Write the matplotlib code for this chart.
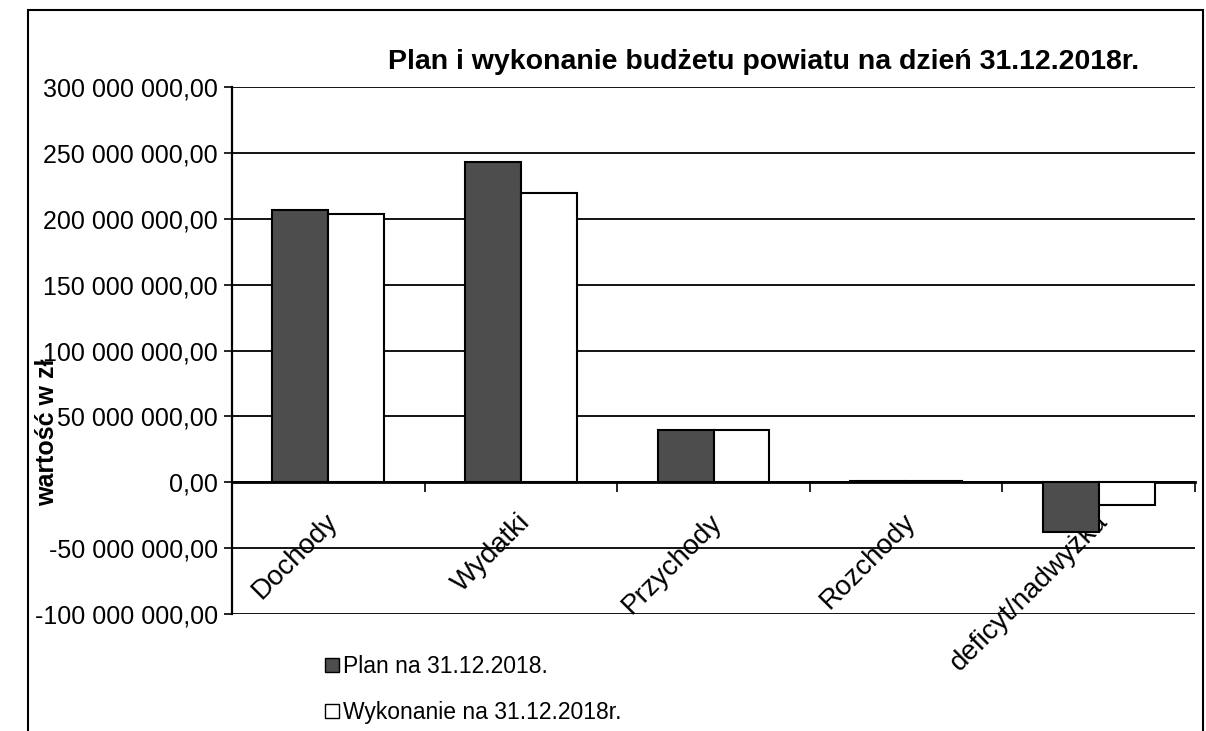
import matplotlib
matplotlib.use('Agg')
import matplotlib.pyplot as plt
import numpy as np
from matplotlib.ticker import FuncFormatter
from matplotlib.patches import Rectangle, Patch

plt.rcParams['font.family'] = ['Liberation Sans', 'DejaVu Sans']

# data (values in zl)
categories = ['Dochody', 'Wydatki', 'Przychody', 'Rozchody', 'deficyt/nadwyżka']
plan = [206.8e6, 243.4e6, 39.5e6, 1.3e6, -37.6e6]
wykonanie = [203.8e6, 219.5e6, 39.3e6, 1.2e6, -17.0e6]
series_labels = ['Plan na 31.12.2018.', 'Wykonanie na 31.12.2018r.']
title = 'Plan i wykonanie budżetu powiatu na dzień 31.12.2018r.'

fig = plt.figure(figsize=(12.06, 7.31), dpi=100)
ax = fig.add_axes([232 / 1206, 1 - 614 / 731, (1195 - 232) / 1206, (614 - 87) / 731])

x = np.arange(len(categories))
w = 0.29
ax.bar(x - w / 2, plan, w, color='#4d4d4d', edgecolor='black', linewidth=1.5, zorder=3)
ax.bar(x + w / 2, wykonanie, w, color='white', edgecolor='black', linewidth=1.5, zorder=3)

ax.set_xlim(-0.5, len(categories) - 0.5)
ax.set_ylim(-100e6, 300e6)
ax.set_yticks(np.arange(-100e6, 300e6 + 1, 50e6))


def fmt(v, pos):
    s = '{:,.2f}'.format(v)
    return s.replace(',', ' ').replace('.', ',')


ax.yaxis.set_major_formatter(FuncFormatter(fmt))
ax.tick_params(axis='y', labelsize=18, length=6, width=1.2, pad=4, direction='out')
ax.yaxis.grid(True, color='black', linewidth=1.3, zorder=0)
ax.set_axisbelow(True)

# x axis crosses at zero, ticks between categories
ax.spines['bottom'].set_position(('data', 0))
ax.spines['bottom'].set_linewidth(2)
ax.spines['left'].set_linewidth(1.6)
ax.spines['top'].set_visible(False)
ax.spines['right'].set_visible(False)
ax.set_xticks(np.arange(-0.5, len(categories), 1))
ax.set_xticklabels([])
ax.tick_params(axis='x', length=7, width=1.2, direction='out')

for i, c in enumerate(categories):
    ax.annotate(c, (i, 0), xytext=(-3, -19), textcoords='offset points',
                rotation=45, rotation_mode='anchor', ha='right', va='top',
                fontsize=20, zorder=2, annotation_clip=False)

ax.text(-0.192, 0.345, 'wartość w zł', transform=ax.transAxes, rotation=90,
        ha='center', va='center', fontsize=18, fontweight='bold')
fig.text(764 / 1206, 1 - 62 / 731, title, ha='center', va='center',
         fontsize=20.5, fontweight='bold')

handles = [Patch(facecolor='#4d4d4d', edgecolor='black'),
           Patch(facecolor='white', edgecolor='black')]
fig.legend(handles, series_labels, loc='upper left',
           bbox_to_anchor=(316 / 1206, 1 - 646 / 731), frameon=False,
           fontsize=16.5, handlelength=0.6, handleheight=0.6,
           handletextpad=0.2, labelspacing=1.0, borderaxespad=0)

# outer chart border
fig.patches.append(Rectangle((28 / 1206, -0.05), (1203 - 28) / 1206, 1.05 - 10 / 731,
                             transform=fig.transFigure, fill=False,
                             edgecolor='black', linewidth=1.5))

fig.savefig('out.png', dpi=100)
